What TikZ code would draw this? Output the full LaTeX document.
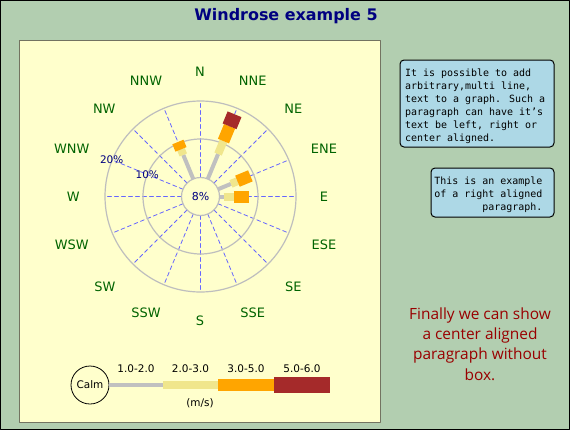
\documentclass[tikz,border=0pt]{standalone}
\usepackage{fontspec}
\setmainfont{DejaVu Sans}
\newfontfamily\boxfont{DejaVu Sans Mono}
\newfontfamily\handfont{Open Sans}
\usepackage{tikz}
\usetikzlibrary{calc}
\definecolor{bcebb0}{rgb}{0.698,0.808,0.69}
\definecolor{ffffcc}{rgb}{1.,1.,0.8}
\definecolor{sixfsix}{rgb}{0.45,0.45,0.38}
\definecolor{qqqq80}{rgb}{0.,0.,0.5}
\definecolor{qq64qq}{rgb}{0.,0.39,0.}
\definecolor{sixsixff}{rgb}{0.4,0.4,1.}
\definecolor{bebebe}{rgb}{0.745,0.745,0.745}
\definecolor{cococo}{rgb}{0.753,0.753,0.753}
\definecolor{fqeesc}{rgb}{0.941,0.902,0.549}
\definecolor{ffaqqq}{rgb}{1.,0.647,0.}
\definecolor{aqtata}{rgb}{0.647,0.165,0.165}
\definecolor{adduee}{rgb}{0.678,0.847,0.902}
\definecolor{ssqqqq}{rgb}{0.6,0.,0.}
\tikzstyle{every node}=[font=\fontsize{13}{15}\selectfont]
\tikzstyle{spoke}=[line width=0.8bp,color=sixsixff,dash pattern=on 4bp off 3bp]
\tikzstyle{ring}=[line width=1.2bp,color=bebebe]
\tikzstyle{seggray}=[line width=4bp,line cap=butt,color=cococo]
\tikzstyle{segkhaki}=[line width=8bp,line cap=butt,color=fqeesc]
\tikzstyle{segorange}=[line width=12bp,line cap=butt,color=ffaqqq]
\tikzstyle{segbrown}=[line width=15bp,line cap=butt,color=aqtata]
\begin{document}
\begin{tikzpicture}[line cap=round,line join=round,x=1bp,y=1bp]
    \clip(0,0) rectangle (570,430);
    \fill[color=bcebb0] (0,0) rectangle (570,430);
    \draw [line width=1bp] (0.5,0.5) rectangle (569.5,429.5);
    \draw [line width=1bp,color=sixfsix,fill=ffffcc] (19.5,7.5) rectangle (380.5,389.5);
    \draw[color=qqqq80] (286,413.5) node (title) {\fontsize{16}{18}\selectfont\bfseries Windrose example 5};
    % rose
    \begin{scope}[shift={(200.5,233.5)}]
        \draw [spoke] (0:19) -- (0:95.5);
        \draw [spoke] (22.5:19) -- (22.5:95.5);
        \draw [spoke] (45:19) -- (45:95.5);
        \draw [spoke] (67.5:19) -- (67.5:95.5);
        \draw [spoke] (90:19) -- (90:95.5);
        \draw [spoke] (112.5:19) -- (112.5:95.5);
        \draw [spoke] (135:19) -- (135:95.5);
        \draw [spoke] (157.5:19) -- (157.5:95.5);
        \draw [spoke] (180:19) -- (180:95.5);
        \draw [spoke] (202.5:19) -- (202.5:95.5);
        \draw [spoke] (225:19) -- (225:95.5);
        \draw [spoke] (247.5:19) -- (247.5:95.5);
        \draw [spoke] (270:19) -- (270:95.5);
        \draw [spoke] (292.5:19) -- (292.5:95.5);
        \draw [spoke] (315:19) -- (315:95.5);
        \draw [spoke] (337.5:19) -- (337.5:95.5);
        \draw [ring] (0,0) circle (19);
        \draw [ring] (0,0) circle (57.5);
        \draw [ring] (0,0) circle (95.5);
        \draw [seggray] (112.5:19) -- (112.5:45);
        \draw [segkhaki] (112.5:45) -- (112.5:51);
        \draw [segorange] (112.5:51) -- (112.5:59);
        \draw [seggray] (67.5:19) -- (67.5:46);
        \draw [segkhaki] (67.5:46) -- (67.5:60);
        \draw [segorange] (67.5:60) -- (67.5:76);
        \draw [segbrown] (67.5:76) -- (67.5:89);
        \draw [seggray] (22.5:19) -- (22.5:33);
        \draw [segkhaki] (22.5:33) -- (22.5:40);
        \draw [segorange] (22.5:40) -- (22.5:54);
        \draw [seggray] (0:19) -- (0:23);
        \draw [segkhaki] (0:23) -- (0:33);
        \draw [segorange] (0:33) -- (0:48);
    \end{scope}
    \draw[color=qq64qq] (200,358) node (dirN) {N};
    \draw[color=qq64qq] (252.7,349) node (dirNNE) {NNE};
    \draw[color=qq64qq] (293.3,321.7) node (dirNE) {NE};
    \draw[color=qq64qq] (324,281) node (dirENE) {ENE};
    \draw[color=qq64qq] (324,233.3) node (dirE) {E};
    \draw[color=qq64qq] (324,185) node (dirESE) {ESE};
    \draw[color=qq64qq] (293.3,143.3) node (dirSE) {SE};
    \draw[color=qq64qq] (252.7,117.3) node (dirSSE) {SSE};
    \draw[color=qq64qq] (200,109) node (dirS) {S};
    \draw[color=qq64qq] (146,117.3) node (dirSSW) {SSW};
    \draw[color=qq64qq] (105,143.3) node (dirSW) {SW};
    \draw[color=qq64qq] (71.7,185) node (dirWSW) {WSW};
    \draw[color=qq64qq] (73.3,233.3) node (dirW) {W};
    \draw[color=qq64qq] (71.7,281) node (dirWNW) {WNW};
    \draw[color=qq64qq] (104.3,321.7) node (dirNW) {NW};
    \draw[color=qq64qq] (146,349) node (dirNNW) {NNW};
    \begin{footnotesize}
        \draw[color=qqqq80] (200.5,233.5) node[font=\fontsize{11}{13}\selectfont] (pctcalm) {8\%};
        \draw[color=qqqq80] (147.3,255) node[font=\fontsize{10.5}{12}\selectfont] (pctten) {10\%};
        \draw[color=qqqq80] (111.7,270) node[font=\fontsize{10.5}{12}\selectfont] (pcttwenty) {20\%};
    \end{footnotesize}
    % legend
    \draw [line width=0.8bp] (90,45) circle (19);
    \draw (90,45) node[font=\fontsize{10.5}{12}\selectfont] (calm) {Calm};
    \fill[color=cococo] (109,43.5) rectangle (163,47.5);
    \fill[color=fqeesc] (163,41.5) rectangle (218,49.5);
    \fill[color=ffaqqq] (218,39.5) rectangle (274,51.5);
    \fill[color=aqtata] (274,37.5) rectangle (330,53.5);
    \draw (136,61.5) node[font=\fontsize{10.5}{12}\selectfont] (rangeA) {1.0-2.0};
    \draw (190.5,61.5) node[font=\fontsize{10.5}{12}\selectfont] (rangeB) {2.0-3.0};
    \draw (246,61.5) node[font=\fontsize{10.5}{12}\selectfont] (rangeC) {3.0-5.0};
    \draw (302,61.5) node[font=\fontsize{10.5}{12}\selectfont] (rangeD) {5.0-6.0};
    \draw (200,26.5) node[font=\fontsize{10.5}{12}\selectfont] (unit) {(m/s)};
    % paragraphs
    \draw [rounded corners=4bp,line width=1bp,fill=adduee] (400,283) rectangle (554,370);
    \draw (405,361) node[anchor=north west,align=left,inner sep=0,font=\boxfont\fontsize{10}{13}\selectfont] (leftpar) {It is possible to add\\arbitrary,multi line,\\text to a graph. Such a\\paragraph can have it’s\\text be left, right or\\center aligned.};
    \draw [rounded corners=4bp,line width=1bp,fill=adduee] (431,213) rectangle (554,262);
    \draw (542.5,253.3) node[anchor=north east,align=right,inner sep=0,font=\boxfont\fontsize{10}{13}\selectfont] (rightpar) {This is an example\\of a right aligned\\paragraph.};
    \draw[color=ssqqqq] (480,86) node[align=center,font=\handfont\fontsize{15.5}{20.4}\selectfont] (centerpar) {Finally we can show\\a center aligned\\paragraph without\\box.};
\end{tikzpicture}
\end{document}
